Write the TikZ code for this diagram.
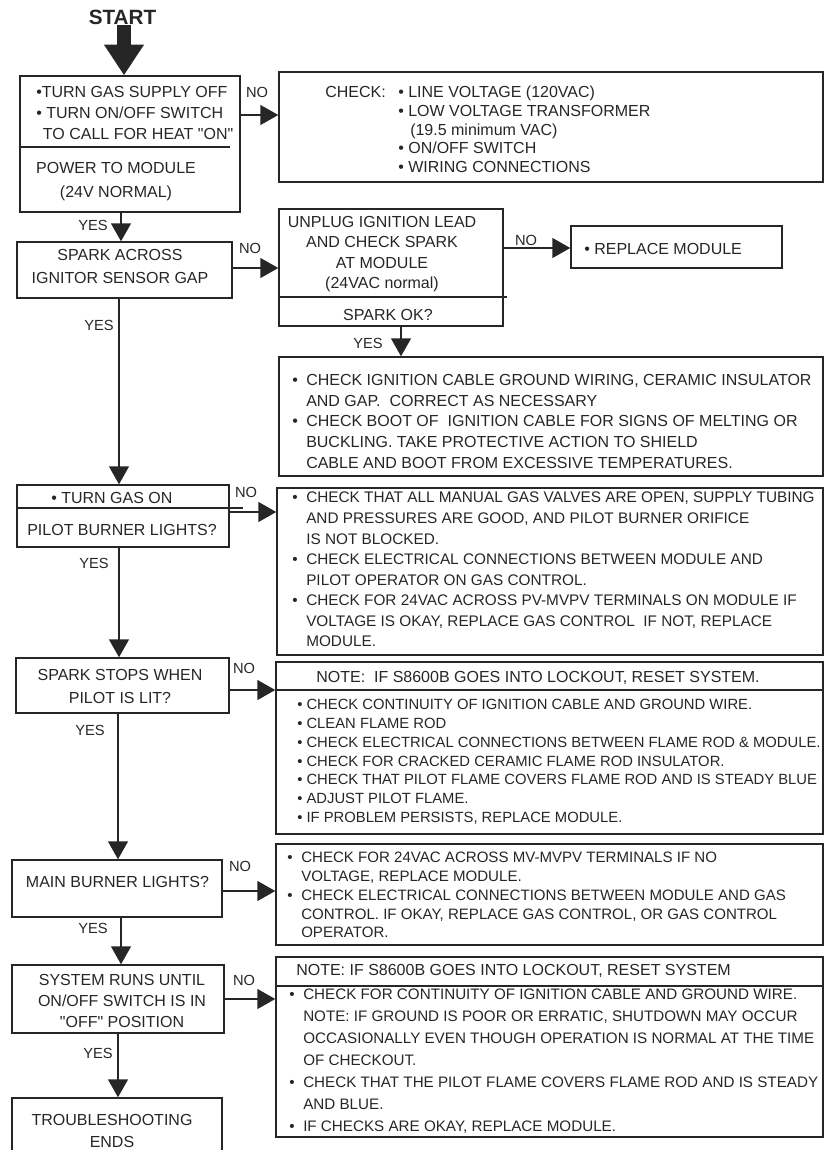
\documentclass[tikz,border=0pt]{standalone}
\usepackage{fontspec}
\setmainfont{Liberation Sans}
\usepackage{tikz}
\usetikzlibrary{arrows.meta}
\usetikzlibrary{fit}
\usetikzlibrary{positioning}

\definecolor{ink}{gray}{0.15}
\newcommand{\bul}{\makebox[10.5pt][l]{•}}
\newcommand{\ind}{\hspace*{10.5pt}}
\newcommand{\fs}[2]{\fontsize{#1}{#2}\selectfont}
\newcommand{\qq}{\textquotedbl}

\begin{document}
\begin{tikzpicture}[x=0.75pt,y=-0.75pt,
        box/.style={draw=ink, line width=1.1pt, inner sep=0pt},
        txt/.style={inner sep=0pt, text=ink, font=\fs{12}{15.5pt}},
        lbl/.style={inner sep=0pt, text=ink, font=\fs{11}{13}},
        arr/.style={draw=ink, line width=1.1pt, -{Triangle[length=13.5pt,width=15pt]}},
        bigarr/.style={draw=ink, line width=10.5pt, -{Triangle[length=23pt,width=28.5pt]}}]
    \useasboundingbox (0,0) rectangle (830,1150);
    \path (124,0) coordinate (v0) (121,0) coordinate (v1) (119,0) coordinate (v2)
          (118,0) coordinate (v3) (401,0) coordinate (v4)
          (0,115) coordinate (h1) (0,268) coordinate (h2) (0,248) coordinate (h3)
          (0,512) coordinate (h4) (0,690) coordinate (h5) (0,891) coordinate (h6)
          (0,999) coordinate (h7);

    \node[txt, font=\bfseries\fs{15.5}{18}] (start) at (122.5,17) {START};

    \node[box, fit={(20,76) (240,212)}] (power) {};
    \node[box, fit={(279,72) (823,182)}] (check) {};
    \node[box, fit={(17,242) (232,298)}] (spark) {};
    \node[box, fit={(279,209) (503,326)}] (unplug) {};
    \node[box, fit={(571,226) (782,268)}] (replace) {};
    \node[box, fit={(279,357) (823,476)}] (cable) {};
    \node[box, fit={(17,485) (229,547)}] (pilot) {};
    \node[box, fit={(277,488) (823,655)}] (valves) {};
    \node[box, fit={(16,658) (229,713)}] (stops) {};
    \node[box, fit={(276,662) (823,834)}] (rod) {};
    \node[box, fit={(12,860) (222,917)}] (main) {};
    \node[box, fit={(276,844) (823,945)}] (mvpv) {};
    \node[box, fit={(12,965) (224,1033)}] (runs) {};
    \node[box, fit={(276,957) (823,1137)}] (ground) {};
    \node[box, fit={(12,1098) (222,1165)}] (ends) {};

    \draw[draw=ink, line width=1.1pt] (20,147) -- (230,147);
    \draw[draw=ink, line width=1.1pt] (279,297) -- (507,297);
    \draw[draw=ink, line width=1.1pt] (17,508) -- (243,508);
    \draw[draw=ink, line width=1.1pt] (276,690) -- (823,690);
    \draw[draw=ink, line width=1.1pt] (276,986) -- (823,986);

    \node[txt, anchor=north west, align=left, font=\fs{12}{15.75pt}] (t1) at (36,86)
        {•TURN GAS SUPPLY OFF\\ • TURN ON/OFF SWITCH\\ \hspace*{5pt}TO CALL FOR HEAT \qq ON\qq};
    \node[txt, anchor=north, align=center, font=\fs{12}{18pt}] (t2) at (116,162)
        {POWER TO MODULE\\(24V NORMAL)};
    \node[txt, anchor=north west] (t3) at (325,86) {CHECK:};
    \node[txt, anchor=north west, align=left, font=\fs{12}{14pt}] (t4) at (398,86)
        {• LINE VOLTAGE (120VAC)\\ • LOW VOLTAGE TRANSFORMER\\ \hspace*{9pt}(19.5 minimum VAC)\\
         • ON/OFF SWITCH\\ • WIRING CONNECTIONS};
    \node[txt, anchor=north, align=center, font=\fs{12}{17.25pt}] (t5) at (120,249)
        {SPARK ACROSS\\IGNITOR SENSOR GAP};
    \node[txt, anchor=north, align=center, font=\fs{12}{15.25pt}] (t6) at (382,216)
        {UNPLUG IGNITION LEAD\\AND CHECK SPARK\\AT MODULE\\(24VAC normal)};
    \node[txt, anchor=north] (t7) at (388,309) {SPARK OK?};
    \node[txt, anchor=north west] (t8) at (584,243) {• REPLACE MODULE};
    \node[txt, anchor=north west, align=left] (t9) at (292,374)
        {\bul CHECK IGNITION CABLE GROUND WIRING, CERAMIC INSULATOR\\
         \ind AND GAP.\ \ CORRECT AS NECESSARY\\
         \bul CHECK BOOT OF\ \ IGNITION CABLE FOR SIGNS OF MELTING OR\\
         \ind BUCKLING. TAKE PROTECTIVE ACTION TO SHIELD\\
         \ind CABLE AND BOOT FROM EXCESSIVE TEMPERATURES.};
    \node[txt, anchor=north west] (t10) at (51,492) {• TURN GAS ON};
    \node[txt, anchor=north] (t11) at (122,524) {PILOT BURNER LIGHTS?};
    \node[txt, anchor=north west, align=left, font=\fs{11.5}{15.4pt}] (t12) at (292,492)
        {\bul CHECK THAT ALL MANUAL GAS VALVES ARE OPEN, SUPPLY TUBING\\
         \ind AND PRESSURES ARE GOOD, AND PILOT BURNER ORIFICE\\
         \ind IS NOT BLOCKED.\\
         \bul CHECK ELECTRICAL CONNECTIONS BETWEEN MODULE AND\\
         \ind PILOT OPERATOR ON GAS CONTROL.\\
         \bul CHECK FOR 24VAC ACROSS PV-MVPV TERMINALS ON MODULE IF\\
         \ind VOLTAGE IS OKAY, REPLACE GAS CONTROL\ \ IF NOT, REPLACE\\
         \ind MODULE.};
    \node[txt, anchor=north, align=center, font=\fs{12}{17.25pt}] (t13) at (120,669)
        {SPARK STOPS WHEN\\PILOT IS LIT?};
    \node[txt, anchor=north] (t14) at (538,671) {NOTE:\ \ IF S8600B GOES INTO LOCKOUT, RESET SYSTEM.};
    \node[txt, anchor=north west, align=left, font=\fs{11.1}{14.1pt}] (t15) at (297,699)
        {• CHECK CONTINUITY OF IGNITION CABLE AND GROUND WIRE.\\
         • CLEAN FLAME ROD\\
         • CHECK ELECTRICAL CONNECTIONS BETWEEN FLAME ROD \& MODULE.\\
         • CHECK FOR CRACKED CERAMIC FLAME ROD INSULATOR.\\
         • CHECK THAT PILOT FLAME COVERS FLAME ROD AND IS STEADY BLUE\\
         • ADJUST PILOT FLAME.\\
         • IF PROBLEM PERSISTS, REPLACE MODULE.};
    \node[txt, anchor=north] (t16) at (117.5,876) {MAIN BURNER LIGHTS?};
    \node[txt, anchor=north west, align=left, font=\fs{11.3}{14.1pt}] (t17) at (287,852)
        {\bul CHECK FOR 24VAC ACROSS MV-MVPV TERMINALS IF NO\\
         \ind VOLTAGE, REPLACE MODULE.\\
         \bul CHECK ELECTRICAL CONNECTIONS BETWEEN MODULE AND GAS\\
         \ind CONTROL. IF OKAY, REPLACE GAS CONTROL, OR GAS CONTROL\\
         \ind OPERATOR.};
    \node[txt, anchor=north, align=center, font=\fs{12}{15.75pt}] (t18) at (122,974)
        {SYSTEM RUNS UNTIL\\ON/OFF SWITCH IS IN\\\qq OFF\qq\ POSITION};
    \node[txt, anchor=north west] (t19) at (296,964) {NOTE: IF S8600B GOES INTO LOCKOUT, RESET SYSTEM};
    \node[txt, anchor=north west, align=left, font=\fs{11.4}{16.5pt}] (t20) at (289,989)
        {\bul CHECK FOR CONTINUITY OF IGNITION CABLE AND GROUND WIRE.\\
         \ind NOTE: IF GROUND IS POOR OR ERRATIC, SHUTDOWN MAY OCCUR\\
         \ind OCCASIONALLY EVEN THOUGH OPERATION IS NORMAL AT THE TIME\\
         \ind OF CHECKOUT.\\
         \bul CHECK THAT THE PILOT FLAME COVERS FLAME ROD AND IS STEADY\\
         \ind AND BLUE.\\
         \bul IF CHECKS ARE OKAY, REPLACE MODULE.};
    \node[txt, anchor=north, align=center, font=\fs{12}{16.5pt}] (t21) at (112,1114)
        {TROUBLESHOOTING\\ENDS};

    \node[lbl] (no1) at (257,92) {NO};
    \node[lbl] (yes1) at (93,225) {YES};
    \node[lbl] (no2) at (250,248) {NO};
    \node[lbl] (no3) at (526,240) {NO};
    \node[lbl] (yes2) at (368,343) {YES};
    \node[lbl] (yes3) at (99,325) {YES};
    \node[lbl] (no4) at (246,492) {NO};
    \node[lbl] (yes4) at (94,563) {YES};
    \node[lbl] (no5) at (244,668) {NO};
    \node[lbl] (yes5) at (90,730) {YES};
    \node[lbl] (no6) at (240,866) {NO};
    \node[lbl] (yes6) at (93,928) {YES};
    \node[lbl] (no7) at (244,980) {NO};
    \node[lbl] (yes7) at (98,1053) {YES};

    \draw[bigarr] (start.south -| v0) -- (power.north -| v0);
    \draw[arr] (power.south -| v1) -- (spark.north -| v1);
    \draw[arr] (spark.south -| v2) -- (pilot.north -| v2);
    \draw[arr] (pilot.south -| v2) -- (stops.north -| v2);
    \draw[arr] (stops.south -| v3) -- (main.north -| v3);
    \draw[arr] (main.south -| v1) -- (runs.north -| v1);
    \draw[arr] (runs.south -| v3) -- (ends.north -| v3);
    \draw[arr] (unplug.south -| v4) -- (cable.north -| v4);
    \draw[arr] (power.east |- h1) -- (check.west |- h1);
    \draw[arr] (spark.east |- h2) -- (unplug.west |- h2);
    \draw[arr] (unplug.east |- h3) -- (replace.west |- h3);
    \draw[arr] (pilot.east |- h4) -- (valves.west |- h4);
    \draw[arr] (stops.east |- h5) -- (rod.west |- h5);
    \draw[arr] (main.east |- h6) -- (mvpv.west |- h6);
    \draw[arr] (runs.east |- h7) -- (ground.west |- h7);
\end{tikzpicture}
\end{document}
